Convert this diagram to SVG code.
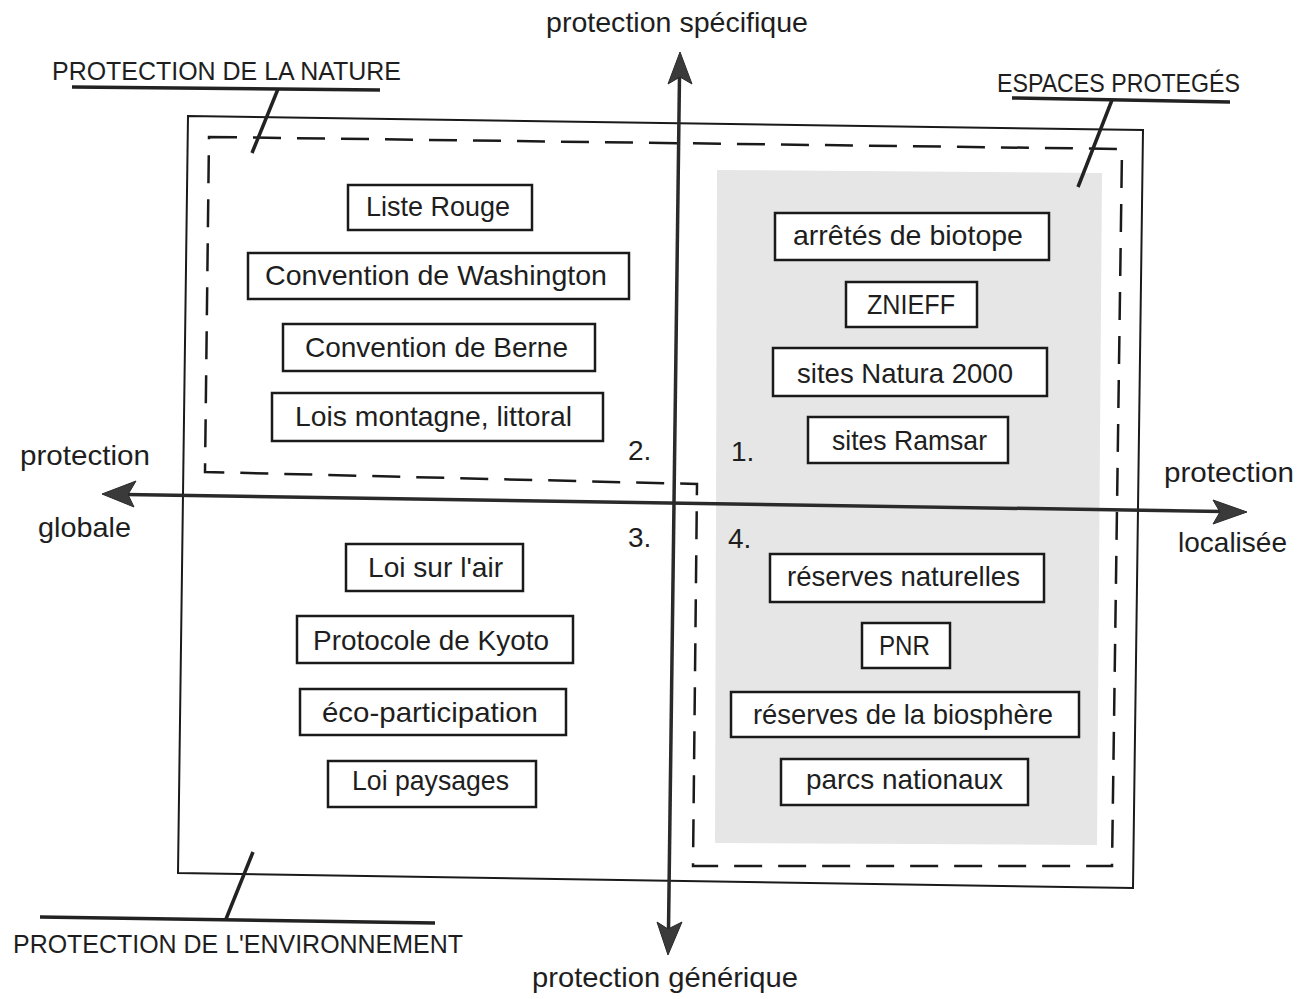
<svg xmlns="http://www.w3.org/2000/svg" width="1299" height="999" viewBox="0 0 1299 999">
<defs>
<style>
text{font-family:"Liberation Sans",Arial,sans-serif;font-size:28px;fill:#1e1e1e}
.title{font-size:26px}
.box rect{fill:#fff;stroke:#1a1a1a;stroke-width:2.5}
.lbl{stroke:#222;stroke-width:3.5;fill:none}
.axis{stroke:#2a2a2a;stroke-width:3.5;fill:none}
.head{fill:#3a3a3a;stroke:#2a2a2a;stroke-width:1}
</style>
</defs>
<rect width="1299" height="999" fill="#fff"/>

<!-- regions -->
<g id="shaded-area">
<polygon points="717,170 1102,173 1097,845 715,843" fill="#e6e6e6"/>
</g>
<g id="outer-frame">
<polygon points="188,116 1143,130 1133,888 178,873" fill="none" stroke="#1a1a1a" stroke-width="2"/>
</g>
<g id="dashed-frame">
<polygon points="209,137 1122,149 1112,866 693,866 697,484 205,472" fill="none" stroke="#1a1a1a" stroke-width="2.5" stroke-dasharray="28,16"/>
</g>

<!-- axes -->
<g id="connectors">
<line class="axis" x1="126" y1="494.4" x2="1222" y2="511.6"/>
<path class="head" d="M102,494 L136,481 L128,494.5 L134,507 Z"/>
<path class="head" d="M1247,512 L1213,500 L1220,512 L1213,524 Z"/>
<line class="axis" x1="679.5" y1="76" x2="668.5" y2="930"/>
<path class="head" d="M680,52 L692,84 L680,77 L668,84 Z"/>
<path class="head" d="M668,955 L657,922 L668,929 L682,922 Z"/>
</g>

<!-- axis labels -->
<g id="axis-labels">
<text x="546" y="32" textLength="262" lengthAdjust="spacingAndGlyphs">protection spécifique</text>
<text x="532" y="987" textLength="266" lengthAdjust="spacingAndGlyphs">protection générique</text>
<text x="20" y="465" textLength="130" lengthAdjust="spacingAndGlyphs">protection</text>
<text x="38" y="537" textLength="93" lengthAdjust="spacingAndGlyphs">globale</text>
<text x="1164" y="482" textLength="130" lengthAdjust="spacingAndGlyphs">protection</text>
<text x="1178" y="552" textLength="109" lengthAdjust="spacingAndGlyphs">localisée</text>
</g>

<!-- category labels -->
<g id="label-nature">
<text class="title" x="52" y="80" textLength="349" lengthAdjust="spacingAndGlyphs">PROTECTION DE LA NATURE</text>
<line class="lbl" x1="72" y1="87" x2="380" y2="90"/>
<line class="lbl" x1="278" y1="89" x2="252" y2="153"/>
</g>
<g id="label-espaces">
<text class="title" x="997" y="92" textLength="243" lengthAdjust="spacingAndGlyphs">ESPACES PROTEGÉS</text>
<line class="lbl" x1="1012" y1="98" x2="1230" y2="102"/>
<line class="lbl" x1="1112" y1="100" x2="1078" y2="187"/>
</g>
<g id="label-environnement">
<text class="title" x="13" y="953" textLength="450" lengthAdjust="spacingAndGlyphs">PROTECTION DE L'ENVIRONNEMENT</text>
<line class="lbl" x1="40" y1="917" x2="435" y2="923"/>
<line class="lbl" x1="253" y1="852" x2="226" y2="919"/>
</g>

<!-- quadrant numbers -->
<g id="quadrant-numbers">
<text x="628" y="460">2.</text>
<text x="731" y="461">1.</text>
<text x="628" y="547">3.</text>
<text x="728" y="548">4.</text>
</g>

<!-- left column boxes -->
<g id="liste-rouge" class="box"><rect x="348" y="185" width="184" height="45"/><text x="366" y="216" textLength="144" lengthAdjust="spacingAndGlyphs">Liste Rouge</text></g>
<g id="washington" class="box"><rect x="248" y="253" width="381" height="46"/><text x="265" y="285" textLength="342" lengthAdjust="spacingAndGlyphs">Convention de Washington</text></g>
<g id="berne" class="box"><rect x="283" y="324" width="312" height="47"/><text x="305" y="357" textLength="263" lengthAdjust="spacingAndGlyphs">Convention de Berne</text></g>
<g id="lois-montagne" class="box"><rect x="272" y="393" width="331" height="48"/><text x="295" y="426" textLength="277" lengthAdjust="spacingAndGlyphs">Lois montagne, littoral</text></g>
<g id="loi-air" class="box"><rect x="346" y="544" width="177" height="47"/><text x="368" y="577" textLength="135" lengthAdjust="spacingAndGlyphs">Loi sur l'air</text></g>
<g id="kyoto" class="box"><rect x="297" y="616" width="276" height="47"/><text x="313" y="650" textLength="236" lengthAdjust="spacingAndGlyphs">Protocole de Kyoto</text></g>
<g id="eco-participation" class="box"><rect x="300" y="689" width="266" height="46"/><text x="322" y="722" textLength="216" lengthAdjust="spacingAndGlyphs">éco-participation</text></g>
<g id="loi-paysages" class="box"><rect x="328" y="761" width="208" height="46"/><text x="352" y="790" textLength="157" lengthAdjust="spacingAndGlyphs">Loi paysages</text></g>

<!-- right column boxes -->
<g id="biotope" class="box"><rect x="775" y="213" width="274" height="47"/><text x="793" y="245" textLength="230" lengthAdjust="spacingAndGlyphs">arrêtés de biotope</text></g>
<g id="znieff" class="box"><rect x="846" y="282" width="131" height="45"/><text x="867" y="314" textLength="88" lengthAdjust="spacingAndGlyphs">ZNIEFF</text></g>
<g id="natura" class="box"><rect x="773" y="348" width="274" height="48"/><text x="797" y="383" textLength="216" lengthAdjust="spacingAndGlyphs">sites Natura 2000</text></g>
<g id="ramsar" class="box"><rect x="808" y="417" width="200" height="46"/><text x="832" y="450" textLength="155" lengthAdjust="spacingAndGlyphs">sites Ramsar</text></g>
<g id="reserves-naturelles" class="box"><rect x="770" y="554" width="274" height="48"/><text x="787" y="586" textLength="233" lengthAdjust="spacingAndGlyphs">réserves naturelles</text></g>
<g id="pnr" class="box"><rect x="862" y="623" width="88" height="45"/><text x="879" y="655" textLength="51" lengthAdjust="spacingAndGlyphs">PNR</text></g>
<g id="biosphere" class="box"><rect x="731" y="692" width="348" height="45"/><text x="753" y="724" textLength="300" lengthAdjust="spacingAndGlyphs">réserves de la biosphère</text></g>
<g id="parcs-nationaux" class="box"><rect x="781" y="759" width="247" height="46"/><text x="806" y="789" textLength="197" lengthAdjust="spacingAndGlyphs">parcs nationaux</text></g>
</svg>
